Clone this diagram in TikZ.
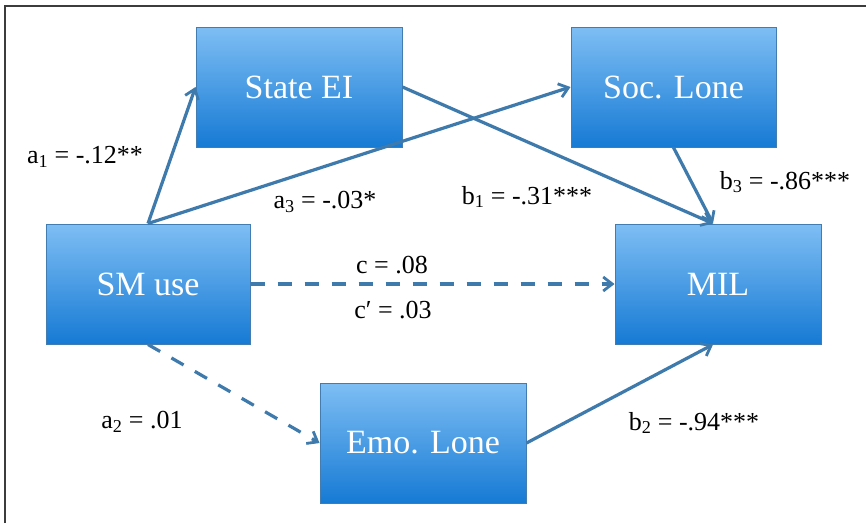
\documentclass[tikz,border=0pt]{standalone}
\usepackage{fontspec}
\setmainfont{Liberation Serif}
\usetikzlibrary{arrows.meta,calc}
\definecolor{boxtop}{RGB}{126,190,244}
\definecolor{boxbot}{RGB}{22,122,212}
\definecolor{boxline}{RGB}{66,124,176}
\definecolor{arrowc}{RGB}{62,122,172}
\definecolor{framec}{RGB}{60,60,60}
\tikzset{
  varbox/.style={rectangle, draw=boxline, line width=1pt, top color=boxtop, bottom color=boxbot,
    minimum width=206pt, minimum height=120pt, inner sep=0pt, text=white,
    font=\fontsize{34}{38}\selectfont},
  conn/.style={draw=arrowc, line width=3.2pt, -{Straight Barb[length=9pt,width=14pt,line width=2.8pt]}},
  dconn/.style={conn, dash pattern=on 14pt off 13pt},
  lbl/.style={inner sep=0pt, font=\fontsize{26}{30}\selectfont}
}
\begin{document}
\begin{tikzpicture}[x=1pt,y=-1pt]
\useasboundingbox (0,0) rectangle (866,523);
\fill[white] (0,0) rectangle (866,523);
\draw[framec, line width=1.6pt] (5,523) -- (5,6) -- (866,6);

\node[varbox] (sei) at (299,87) {State EI};
\node[varbox, minimum width=205pt] (soc) at (673.5,87) {Soc. Lone};
\node[varbox, minimum width=204pt] (sm) at (148,284) {SM use};
\node[varbox] (mil) at (718,284) {MIL};
\node[varbox] (emo) at (423,443) {Emo. Lone};

\coordinate (miltop) at ($(mil.north)+(-5,0)$);
\coordinate (milbot) at ($(mil.south)+(-5,0)$);

\draw[conn] (sm.north) -- (sei.west);
\draw[conn] (sm.north) -- (soc.west);
\draw[conn] (sei.east) -- (miltop);
\draw[conn] (soc.south) -- (miltop);
\draw[dconn] (sm.east) -- (mil.west);
\draw[dconn] (sm.south) -- (emo.west);
\draw[conn] (emo.east) -- (milbot);

\node[lbl] (la1) at (85,157) {a\textsubscript{1} = -.12**};
\node[lbl] (la3) at (325,202) {a\textsubscript{3} = -.03*};
\node[lbl] (lb1) at (527,197) {b\textsubscript{1} = -.31***};
\node[lbl] (lb3) at (785,182) {b\textsubscript{3} = -.86***};
\node[lbl] (lc) at (392,265) {c = .08};
\node[lbl] (lcp) at (393,310) {c′ = .03};
\node[lbl] (la2) at (142,422) {a\textsubscript{2} = .01};
\node[lbl] (lb2) at (694,423) {b\textsubscript{2} = -.94***};
\end{tikzpicture}
\end{document}
